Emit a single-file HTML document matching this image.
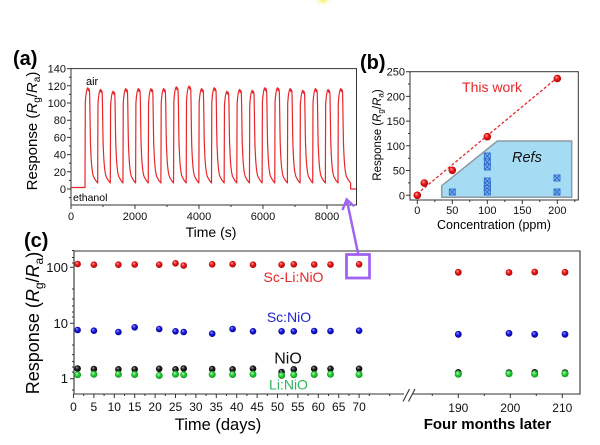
<!DOCTYPE html>
<html><head><meta charset="utf-8"><style>
html,body{margin:0;padding:0;background:#fff;}
svg{display:block;font-family:"Liberation Sans",Arial,sans-serif;}
</style></head><body>
<svg width="600" height="445" viewBox="0 0 600 445" xmlns="http://www.w3.org/2000/svg">
<defs>
<radialGradient id="gr" cx="0.5" cy="0.5" r="0.55" fx="0.35" fy="0.3"><stop offset="0" stop-color="#ffb0b0"/><stop offset="0.45" stop-color="#ee1c1c"/><stop offset="1" stop-color="#a00000"/></radialGradient>
<radialGradient id="gb" cx="0.5" cy="0.5" r="0.55" fx="0.35" fy="0.3"><stop offset="0" stop-color="#a8a8ff"/><stop offset="0.45" stop-color="#1c1ce0"/><stop offset="1" stop-color="#00008a"/></radialGradient>
<radialGradient id="gk" cx="0.5" cy="0.5" r="0.55" fx="0.35" fy="0.3"><stop offset="0" stop-color="#aaaaaa"/><stop offset="0.45" stop-color="#222"/><stop offset="1" stop-color="#000"/></radialGradient>
<radialGradient id="gg" cx="0.5" cy="0.5" r="0.55" fx="0.35" fy="0.3"><stop offset="0" stop-color="#c8ffc8"/><stop offset="0.45" stop-color="#2ad23a"/><stop offset="1" stop-color="#108a1a"/></radialGradient>
<radialGradient id="gy" cx="0.5" cy="0.5" r="0.5"><stop offset="0" stop-color="#f4f050"/><stop offset="1" stop-color="#ffffff" stop-opacity="0"/></radialGradient>
</defs>
<rect width="600" height="445" fill="#fff"/>
<ellipse cx="323" cy="1" rx="10" ry="5" fill="url(#gy)"/>

<!-- Panel (a) -->
<text x="13" y="65" font-size="20" font-weight="bold">(a)</text>
<rect x="71" y="68.6" width="285.5" height="136.4" fill="none" stroke="#333" stroke-width="1"/>
<g stroke="#333" stroke-width="1">
<path d="M67,189H71M67,171.8H71M67,154.6H71M67,137.4H71M67,120.2H71M67,103H71M67,85.8H71M67,68.6H71"/>
<path d="M69,197.6H71M69,180.4H71M69,163.2H71M69,146H71M69,128.8H71M69,111.6H71M69,94.4H71M69,77.2H71"/>
<path d="M71,205V209M135,205V209M199,205V209M263,205V209M327,205V209"/>
<path d="M103,205V207M167,205V207M231,205V207M295,205V207"/>
</g>
<g font-size="11" text-anchor="end" fill="#111">
<text x="66" y="193">0</text><text x="66" y="175.8">20</text><text x="66" y="158.6">40</text><text x="66" y="141.4">60</text><text x="66" y="124.2">80</text><text x="66" y="107">100</text><text x="66" y="89.8">120</text><text x="66" y="72.6">140</text>
</g>
<g font-size="11" text-anchor="middle" fill="#111">
<text x="71" y="220">0</text><text x="135" y="220">2000</text><text x="199" y="220">4000</text><text x="263" y="220">6000</text><text x="327" y="220">8000</text>
</g>
<text x="211" y="237" font-size="14" text-anchor="middle">Time (s)</text>
<text transform="translate(37,131) rotate(-90)" font-size="15" text-anchor="middle">Response (<tspan font-style="italic">R</tspan><tspan font-size="10" dy="3">g</tspan><tspan dy="-3">/</tspan><tspan font-style="italic">R</tspan><tspan font-size="10" dy="3">a</tspan><tspan dy="-3">)</tspan></text>
<text x="86" y="85" font-size="11">air</text>
<text x="73" y="201" font-size="10.5">ethanol</text>
<path fill="none" stroke="#e8262a" stroke-width="1.2" stroke-linejoin="round" d="M71,187.5H85V183
l0.3,-80.3 c0.5,-8 1.5,-14 2.5,-15 l0.6,3 l0.5,-2 l0.6,2 c0.5,10 0.6,48.3 1.2,58.3 c0.7,18 1.5,25 3,28 c1.5,3 3,5 3.95,6
l0.3,-78.6 c0.5,-8 1.5,-14 2.5,-15 l0.6,3 l0.5,-2 l0.6,2 c0.5,10 0.6,46.6 1.2,56.6 c0.7,18 1.5,25 3,28 c1.5,3 3,5 3.95,6
l0.3,-76.8 c0.5,-8 1.5,-14 2.5,-15 l0.6,3 l0.5,-2 l0.6,2 c0.5,10 0.6,44.8 1.2,54.8 c0.7,18 1.5,25 3,28 c1.5,3 3,5 3.95,6
l0.3,-79.4 c0.5,-8 1.5,-14 2.5,-15 l0.6,3 l0.5,-2 l0.6,2 c0.5,10 0.6,47.4 1.2,57.4 c0.7,18 1.5,25 3,28 c1.5,3 3,5 3.95,6
l0.3,-79.4 c0.5,-8 1.5,-14 2.5,-15 l0.6,3 l0.5,-2 l0.6,2 c0.5,10 0.6,47.4 1.2,57.4 c0.7,18 1.5,25 3,28 c1.5,3 3,5 3.95,6
l0.3,-79.4 c0.5,-8 1.5,-14 2.5,-15 l0.6,3 l0.5,-2 l0.6,2 c0.5,10 0.6,47.4 1.2,57.4 c0.7,18 1.5,25 3,28 c1.5,3 3,5 3.95,6
l0.3,-79.4 c0.5,-8 1.5,-14 2.5,-15 l0.6,3 l0.5,-2 l0.6,2 c0.5,10 0.6,47.4 1.2,57.4 c0.7,18 1.5,25 3,28 c1.5,3 3,5 3.95,6
l0.3,-81.2 c0.5,-8 1.5,-14 2.5,-15 l0.6,3 l0.5,-2 l0.6,2 c0.5,10 0.6,49.2 1.2,59.2 c0.7,18 1.5,25 3,28 c1.5,3 3,5 3.95,6
l0.3,-82 c0.5,-8 1.5,-14 2.5,-15 l0.6,3 l0.5,-2 l0.6,2 c0.5,10 0.6,50 1.2,60 c0.7,18 1.5,25 3,28 c1.5,3 3,5 3.95,6
l0.3,-79.4 c0.5,-8 1.5,-14 2.5,-15 l0.6,3 l0.5,-2 l0.6,2 c0.5,10 0.6,47.4 1.2,57.4 c0.7,18 1.5,25 3,28 c1.5,3 3,5 3.95,6
l0.3,-80.3 c0.5,-8 1.5,-14 2.5,-15 l0.6,3 l0.5,-2 l0.6,2 c0.5,10 0.6,48.3 1.2,58.3 c0.7,18 1.5,25 3,28 c1.5,3 3,5 3.95,6
l0.3,-76.8 c0.5,-8 1.5,-14 2.5,-15 l0.6,3 l0.5,-2 l0.6,2 c0.5,10 0.6,44.8 1.2,54.8 c0.7,18 1.5,25 3,28 c1.5,3 3,5 3.95,6
l0.3,-78.6 c0.5,-8 1.5,-14 2.5,-15 l0.6,3 l0.5,-2 l0.6,2 c0.5,10 0.6,46.6 1.2,56.6 c0.7,18 1.5,25 3,28 c1.5,3 3,5 3.95,6
l0.3,-77.7 c0.5,-8 1.5,-14 2.5,-15 l0.6,3 l0.5,-2 l0.6,2 c0.5,10 0.6,45.7 1.2,55.7 c0.7,18 1.5,25 3,28 c1.5,3 3,5 3.95,6
l0.3,-80.3 c0.5,-8 1.5,-14 2.5,-15 l0.6,3 l0.5,-2 l0.6,2 c0.5,10 0.6,48.3 1.2,58.3 c0.7,18 1.5,25 3,28 c1.5,3 3,5 3.95,6
l0.3,-80.3 c0.5,-8 1.5,-14 2.5,-15 l0.6,3 l0.5,-2 l0.6,2 c0.5,10 0.6,48.3 1.2,58.3 c0.7,18 1.5,25 3,28 c1.5,3 3,5 3.95,6
l0.3,-79.4 c0.5,-8 1.5,-14 2.5,-15 l0.6,3 l0.5,-2 l0.6,2 c0.5,10 0.6,47.4 1.2,57.4 c0.7,18 1.5,25 3,28 c1.5,3 3,5 3.95,6
l0.3,-77.7 c0.5,-8 1.5,-14 2.5,-15 l0.6,3 l0.5,-2 l0.6,2 c0.5,10 0.6,45.7 1.2,55.7 c0.7,18 1.5,25 3,28 c1.5,3 3,5 3.95,6
l0.3,-79.4 c0.5,-8 1.5,-14 2.5,-15 l0.6,3 l0.5,-2 l0.6,2 c0.5,10 0.6,47.4 1.2,57.4 c0.7,18 1.5,25 3,28 c1.5,3 3,5 3.95,6
l0.3,-78.6 c0.5,-8 1.5,-14 2.5,-15 l0.6,3 l0.5,-2 l0.6,2 c0.5,10 0.6,46.6 1.2,56.6 c0.7,18 1.5,25 3,28 c1.5,3 3,5 3.95,6
l0.3,-79.4 c0.5,-8 1.5,-14 2.5,-15 l0.6,3 l0.5,-2 l0.6,2 c0.5,10 0.6,47.4 1.2,57.4 c0.7,18 1.5,25 3,28 c1.5,3 3,5 3.95,6
V189H356"/>

<!-- Panel (b) -->
<text x="360" y="69" font-size="20" font-weight="bold">(b)</text>
<rect x="410" y="71.7" width="168.3" height="128.3" fill="none" stroke="#333" stroke-width="1"/>
<g stroke="#333" stroke-width="1">
<path d="M406,195.3H410M406,170.5H410M406,145.8H410M406,121.1H410M406,96.4H410M406,71.7H410"/>
<path d="M408,182.9H410M408,158.2H410M408,133.5H410M408,108.8H410M408,84H410"/>
<path d="M417.3,200V204M452.3,200V204M487.3,200V204M522.3,200V204M557.3,200V204"/>
<path d="M434.8,200V202M469.8,200V202M504.8,200V202M539.8,200V202M574.8,200V202"/>
</g>
<g font-size="11" text-anchor="end" fill="#111">
<text x="405" y="199.3">0</text><text x="405" y="174.5">50</text><text x="405" y="149.8">100</text><text x="405" y="125.1">150</text><text x="405" y="100.4">200</text><text x="405" y="75.7">250</text>
</g>
<g font-size="11" text-anchor="middle" fill="#111">
<text x="417.3" y="214">0</text><text x="452.3" y="214">50</text><text x="487.3" y="214">100</text><text x="522.3" y="214">150</text><text x="557.3" y="214">200</text>
</g>
<text x="494" y="229" font-size="12.5" text-anchor="middle">Concentration (ppm)</text>
<text transform="translate(381,135) rotate(-90)" font-size="11.5" text-anchor="middle">Response (<tspan font-style="italic">R</tspan><tspan font-size="8" dy="2.5">g</tspan><tspan dy="-2.5">/</tspan><tspan font-style="italic">R</tspan><tspan font-size="8" dy="2.5">a</tspan><tspan dy="-2.5">)</tspan></text>
<polygon points="441.7,185.7 497.3,141 571.7,141 571.7,197.3 441.7,197.3" fill="#a6dbf4" stroke="#8e9aa4" stroke-width="1.5"/>
<text x="512" y="162" font-size="14.5" font-style="italic" fill="#111">Refs</text>
<g fill="#86bde9" stroke="#2a66cc" stroke-width="0.9">
<rect x="449.3" y="189" width="6" height="6"/><path d="M449.8,189.5l5,5m0,-5l-5,5"/>
<rect x="484.3" y="153" width="6" height="6"/><path d="M484.8,153.5l5,5m0,-5l-5,5"/>
<rect x="484.3" y="159" width="6" height="6"/><path d="M484.8,159.5l5,5m0,-5l-5,5"/>
<rect x="484.3" y="164" width="6" height="6"/><path d="M484.8,164.5l5,5m0,-5l-5,5"/>
<rect x="484.3" y="178" width="6" height="6"/><path d="M484.8,178.5l5,5m0,-5l-5,5"/>
<rect x="484.3" y="182" width="6" height="6"/><path d="M484.8,182.5l5,5m0,-5l-5,5"/>
<rect x="484.3" y="185.5" width="6" height="6"/><path d="M484.8,186l5,5m0,-5l-5,5"/>
<rect x="484.3" y="189" width="6" height="6"/><path d="M484.8,189.5l5,5m0,-5l-5,5"/>
<rect x="554" y="175" width="6" height="6"/><path d="M554.5,175.5l5,5m0,-5l-5,5"/>
<rect x="554" y="189" width="6" height="6"/><path d="M554.5,189.5l5,5m0,-5l-5,5"/>
</g>
<line x1="417" y1="194" x2="558" y2="77" stroke="#e8262a" stroke-width="1.3" stroke-dasharray="3,2"/>
<g fill="url(#gr)">
<circle cx="417.3" cy="195.3" r="3.8"/><circle cx="424.3" cy="183" r="3.8"/><circle cx="452.3" cy="170.3" r="3.8"/><circle cx="487.3" cy="136.7" r="3.8"/><circle cx="557.3" cy="78.5" r="3.8"/>
</g>
<text x="492" y="92" font-size="14" text-anchor="middle" fill="#e8262a">This work</text>

<!-- Panel (c) -->
<text x="24" y="247" font-size="20" font-weight="bold">(c)</text>
<g stroke="#333" stroke-width="1.1" fill="none">
<path d="M74,394V251H580V394H412M404,394H74"/>
<path d="M403,401.5L409.5,389M408.5,401.5L415,389"/>
</g>
<g stroke="#333" stroke-width="1">
<path d="M70,267.3H74M70,323.3H74M70,378.7H74"/>
<path d="M72,250.5H74M72,257.5H74M72,263H74M72,289H74M72,299H74M72,306H74M72,312H74M72,317H74M72,345H74M72,354.6H74M72,361.5H74M72,367H74M72,372H74M72,390H74"/>
<path d="M73.5,394V398M93.9,394V398M114.3,394V398M134.7,394V398M155.1,394V398M175.5,394V398M195.9,394V398M216.3,394V398M236.7,394V398M257.1,394V398M277.5,394V398M297.9,394V398M318.3,394V398M338.7,394V398M359.1,394V398"/>
<path d="M83.7,394V396M104.1,394V396M124.5,394V396M144.9,394V396M165.3,394V396M185.7,394V396M206.1,394V396M226.5,394V396M246.9,394V396M267.3,394V396M287.7,394V396M308.1,394V396M328.5,394V396M348.9,394V396M369.3,394V396M389.7,394V396"/>
<path d="M458.3,394V398M510.3,394V398M562.3,394V398M432.3,394V396M484.3,394V396M536.3,394V396"/>
</g>
<g font-size="13" text-anchor="end" fill="#111">
<text x="68" y="271.8">100</text><text x="68" y="327.8">10</text><text x="68" y="383.2">1</text>
</g>
<g font-size="12" text-anchor="middle" fill="#111">
<text x="73.5" y="411">0</text><text x="93.9" y="411">5</text><text x="114.3" y="411">10</text><text x="134.7" y="411">15</text><text x="155.1" y="411">20</text><text x="175.5" y="411">25</text><text x="195.9" y="411">30</text><text x="216.3" y="411">35</text><text x="236.7" y="411">40</text><text x="257.1" y="411">45</text><text x="277.5" y="411">50</text><text x="297.9" y="411">55</text><text x="318.3" y="411">60</text><text x="338.7" y="411">65</text><text x="359.1" y="411">70</text>
<text x="458.3" y="412">190</text><text x="510.3" y="412">200</text><text x="562.3" y="412">210</text>
</g>
<text x="218" y="430" font-size="16.5" text-anchor="middle">Time (days)</text>
<text x="487.5" y="429" font-size="15" font-weight="bold" text-anchor="middle">Four months later</text>
<text transform="translate(39,323) rotate(-90)" font-size="18" text-anchor="middle">Response (<tspan font-style="italic">R</tspan><tspan font-size="12" dy="4">g</tspan><tspan dy="-4">/</tspan><tspan font-style="italic">R</tspan><tspan font-size="12" dy="4">a</tspan><tspan dy="-4">)</tspan></text>

<g fill="url(#gk)">
<circle cx="77.6" cy="368.5" r="3.3"/><circle cx="93.9" cy="369" r="3.3"/><circle cx="118.4" cy="369.3" r="3.3"/><circle cx="134.7" cy="369.3" r="3.3"/><circle cx="159.2" cy="368.8" r="3.3"/><circle cx="175.5" cy="369.3" r="3.3"/><circle cx="183.7" cy="368.5" r="3.3"/><circle cx="212.2" cy="369" r="3.3"/><circle cx="232.6" cy="369.3" r="3.3"/><circle cx="253" cy="368.7" r="3.3"/><circle cx="281.6" cy="372" r="3.3"/><circle cx="293.8" cy="369.3" r="3.3"/><circle cx="314.2" cy="368.8" r="3.3"/><circle cx="330.5" cy="368.8" r="3.3"/><circle cx="359.1" cy="368.8" r="3.3"/>
<circle cx="458.3" cy="372.3" r="3.3"/><circle cx="509" cy="372.5" r="3.3"/><circle cx="534.7" cy="372.3" r="3.3"/><circle cx="565" cy="372.5" r="3.3"/>
</g>
<g fill="url(#gg)">
<circle cx="77.6" cy="374.8" r="3.5"/><circle cx="93.9" cy="374.3" r="3.5"/><circle cx="118.4" cy="374.3" r="3.5"/><circle cx="134.7" cy="374.5" r="3.5"/><circle cx="159.2" cy="375.5" r="3.5"/><circle cx="175.5" cy="374.3" r="3.5"/><circle cx="183.7" cy="374.8" r="3.5"/><circle cx="212.2" cy="374.5" r="3.5"/><circle cx="232.6" cy="374.5" r="3.5"/><circle cx="253" cy="374.3" r="3.5"/><circle cx="281.6" cy="375.5" r="3.5"/><circle cx="293.8" cy="374.8" r="3.5"/><circle cx="314.2" cy="374.5" r="3.5"/><circle cx="330.5" cy="374.3" r="3.5"/><circle cx="359.1" cy="374.5" r="3.5"/>
<circle cx="458.3" cy="374.2" r="3.6"/><circle cx="509" cy="373.7" r="3.6"/><circle cx="534.7" cy="374" r="3.6"/><circle cx="565" cy="373.7" r="3.6"/>
</g>
<g fill="url(#gb)">
<circle cx="77.6" cy="330" r="3.3"/><circle cx="93.9" cy="330.7" r="3.3"/><circle cx="118.4" cy="332" r="3.3"/><circle cx="134.7" cy="327.3" r="3.3"/><circle cx="159.2" cy="329" r="3.3"/><circle cx="175.5" cy="331.3" r="3.3"/><circle cx="183.7" cy="332" r="3.3"/><circle cx="212.2" cy="333.7" r="3.3"/><circle cx="232.6" cy="329" r="3.3"/><circle cx="253" cy="331.3" r="3.3"/><circle cx="281.6" cy="331.3" r="3.3"/><circle cx="293.8" cy="331.3" r="3.3"/><circle cx="314.2" cy="331" r="3.3"/><circle cx="330.5" cy="331" r="3.3"/><circle cx="359.1" cy="330.7" r="3.3"/>
<circle cx="458.3" cy="334.3" r="3.4"/><circle cx="509" cy="333.3" r="3.4"/><circle cx="534.7" cy="334.3" r="3.4"/><circle cx="565" cy="334.3" r="3.4"/>
</g>
<g fill="url(#gr)">
<circle cx="77.6" cy="264" r="3.3"/><circle cx="93.9" cy="264.7" r="3.3"/><circle cx="118.4" cy="264.7" r="3.3"/><circle cx="134.7" cy="264.5" r="3.3"/><circle cx="159.2" cy="264.7" r="3.3"/><circle cx="175.5" cy="263.3" r="3.3"/><circle cx="183.7" cy="265.5" r="3.3"/><circle cx="212.2" cy="264.3" r="3.3"/><circle cx="232.6" cy="264.2" r="3.3"/><circle cx="253" cy="264.7" r="3.3"/><circle cx="281.6" cy="264.7" r="3.3"/><circle cx="293.8" cy="264.3" r="3.3"/><circle cx="314.2" cy="264.5" r="3.3"/><circle cx="330.5" cy="264.5" r="3.3"/><circle cx="359.1" cy="264.3" r="3.3"/>
<circle cx="458.3" cy="272.3" r="3.4"/><circle cx="509" cy="272.5" r="3.4"/><circle cx="534.7" cy="272" r="3.4"/><circle cx="565" cy="272.3" r="3.4"/>
</g>
<text x="293.5" y="282" font-size="14" text-anchor="middle" fill="#e8262a">Sc-Li:NiO</text>
<text x="289" y="322" font-size="14" text-anchor="middle" fill="#2222d4">Sc:NiO</text>
<text x="288" y="363.5" font-size="16" text-anchor="middle" fill="#111">NiO</text>
<text x="288.5" y="389.5" font-size="14" text-anchor="middle" fill="#2db35b">Li:NiO</text>

<!-- purple highlight and arrow -->
<rect x="346.5" y="254.5" width="23" height="23.5" fill="none" stroke="#a064f0" stroke-width="2.8"/>
<g stroke="#a064f0" stroke-width="2.5" fill="none" stroke-linecap="round">
<path d="M358,253L347,201"/>
<path d="M342.8,209L346.7,199.5L353.3,205.5"/>
</g>
</svg>
</body></html>
